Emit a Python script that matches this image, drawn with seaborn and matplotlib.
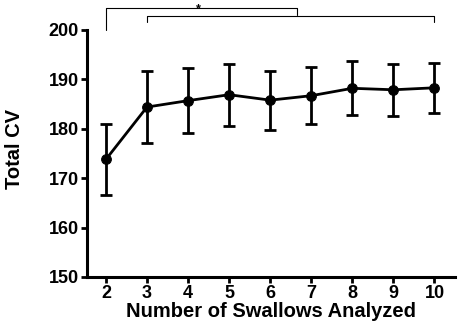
import numpy as np
import pandas as pd
import matplotlib
matplotlib.use("Agg")
import matplotlib.pyplot as plt
import seaborn as sns

swallows = [2, 3, 4, 5, 6, 7, 8, 9, 10]
total_cv = [173.8, 184.4, 185.7, 186.9, 185.8, 186.7, 188.2, 187.9, 188.3]
cv_err = [7.1, 7.3, 6.6, 6.3, 6.0, 5.8, 5.5, 5.3, 5.1]

sns.set_style("ticks")
plt.rcParams["font.family"] = ["Liberation Sans", "DejaVu Sans"]
plt.rcParams["font.weight"] = "bold"
plt.rcParams.update({"text.color": "black", "axes.labelcolor": "black",
                     "xtick.color": "black", "ytick.color": "black",
                     "axes.edgecolor": "black"})

df = pd.DataFrame({"n": swallows, "cv": total_cv, "err": cv_err})

fig = plt.figure(figsize=(4.59, 3.30), dpi=100)
ax = fig.add_axes([87 / 459, 53 / 330, 368 / 459, 247 / 330])

ax.errorbar(df["n"], df["cv"], yerr=df["err"], fmt="none", ecolor="black",
            elinewidth=2, capsize=4, capthick=2, zorder=2)
sns.lineplot(data=df, x="n", y="cv", color="black", linewidth=2, marker="o",
             markersize=7, markeredgecolor="black", ax=ax, zorder=3)

ax.set_xlim(1.54, 10.5)
ax.set_ylim(150, 200)
ax.set_xticks(swallows)
ax.set_yticks(np.arange(150, 201, 10))
ax.tick_params(width=2, length=4, labelsize=13, color="black", labelcolor="black", pad=2)
for lab in ax.get_xticklabels() + ax.get_yticklabels():
    lab.set_fontweight("bold")
ax.set_xlabel("Number of Swallows Analyzed", fontsize=14.5, fontweight="bold", labelpad=0)
ax.set_ylabel("Total CV", fontsize=14.5, fontweight="bold")
ax.yaxis.set_label_coords(-0.172, 0.52)
sns.despine(ax=ax)
for s in ["left", "bottom"]:
    ax.spines[s].set_linewidth(2.2)

# significance brackets
br = dict(color="black", linewidth=0.8, clip_on=False)
ax.plot([2, 2, 6.65, 6.65], [200, 204.5, 204.5, 203.0], **br)
ax.plot([3, 3, 10, 10], [201.6, 202.8, 202.8, 201.6], **br)
ax.text(4.26, 203.6, "*", ha="center", va="baseline", fontsize=9, fontweight="bold")

fig.savefig("out.png", dpi=100)
